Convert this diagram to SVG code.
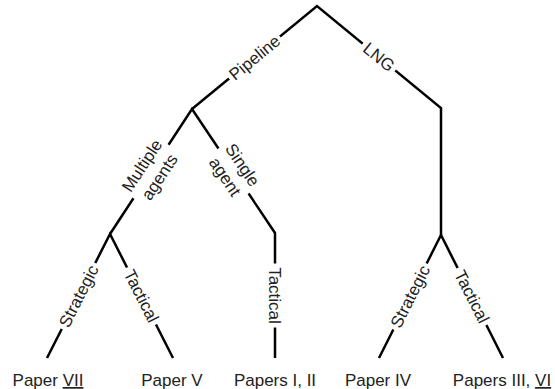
<svg xmlns="http://www.w3.org/2000/svg" width="555" height="389" viewBox="0 0 555 389">
  <style>
    .edge { fill: none; stroke: #000; stroke-width: 2.5; stroke-linejoin: miter; stroke-linecap: butt; }
    .gap { fill: #fff; }
    .lbl { font-family: "Liberation Sans", Arial, sans-serif; font-size: 17px; fill: #222; text-anchor: middle; }
    .u { text-decoration: underline; }
  </style>
  <rect width="555" height="389" fill="#fff"/>

  <!-- tree branches -->
  <g id="connectors">
    <path class="edge" d="M192,109 L317,6 L441,108 L441,235"/>
    <path class="edge" d="M110,234 L192,109 L275,233 L275,358"/>
    <path class="edge" d="M47,358 L110,234 L173,358"/>
    <path class="edge" d="M379,358 L441,235 L503,358"/>
  </g>

  <!-- branch labels, each on a white strip that breaks the line -->
  <g id="branch-labels">
    <g id="lbl-pipeline" transform="translate(254.5,57.5) rotate(-39.5)">
      <rect class="gap" x="-33" y="-4" width="66" height="8"/>
      <text class="lbl" y="6">Pipeline</text>
    </g>
    <g id="lbl-lng" transform="translate(379,57) rotate(39.4)">
      <rect class="gap" x="-21" y="-4" width="42" height="8"/>
      <text class="lbl" y="6">LNG</text>
    </g>
    <g id="lbl-multiple" transform="translate(151,171.5) rotate(-56.7)">
      <rect class="gap" x="-32" y="-4" width="64" height="8"/>
      <text class="lbl" y="-5">Multiple</text>
      <text class="lbl" y="16">agents</text>
    </g>
    <g id="lbl-single" transform="translate(233.5,171) rotate(56.2)">
      <rect class="gap" x="-27" y="-4" width="54" height="8"/>
      <text class="lbl" y="-5">Single</text>
      <text class="lbl" y="16">agent</text>
    </g>
    <g id="lbl-strategic-pipe" transform="translate(78.5,296) rotate(-63.1)">
      <rect class="gap" x="-37" y="-4" width="74" height="8"/>
      <text class="lbl" y="6">Strategic</text>
    </g>
    <g id="lbl-tactical-pipe" transform="translate(141.5,296) rotate(63.1)">
      <rect class="gap" x="-32" y="-4" width="64" height="8"/>
      <text class="lbl" y="6">Tactical</text>
    </g>
    <g id="lbl-tactical-single" transform="translate(275,295.5) rotate(90)">
      <rect class="gap" x="-32" y="-4" width="64" height="8"/>
      <text class="lbl" y="6">Tactical</text>
    </g>
    <g id="lbl-strategic-lng" transform="translate(410,296.5) rotate(-63.2)">
      <rect class="gap" x="-37" y="-4" width="74" height="8"/>
      <text class="lbl" y="6">Strategic</text>
    </g>
    <g id="lbl-tactical-lng" transform="translate(472,296.5) rotate(63.2)">
      <rect class="gap" x="-32" y="-4" width="64" height="8"/>
      <text class="lbl" y="6">Tactical</text>
    </g>
  </g>

  <!-- leaves -->
  <g id="leaf-paper-vii"><text class="lbl" x="48" y="386">Paper <tspan class="u">VII</tspan></text></g>
  <g id="leaf-paper-v"><text class="lbl" x="172" y="386">Paper V</text></g>
  <g id="leaf-papers-i-ii"><text class="lbl" x="275" y="386">Papers I, II</text></g>
  <g id="leaf-paper-iv"><text class="lbl" x="378" y="386">Paper IV</text></g>
  <g id="leaf-papers-iii-vi"><text class="lbl" x="502" y="386">Papers III, <tspan class="u">VI</tspan></text></g>
</svg>
